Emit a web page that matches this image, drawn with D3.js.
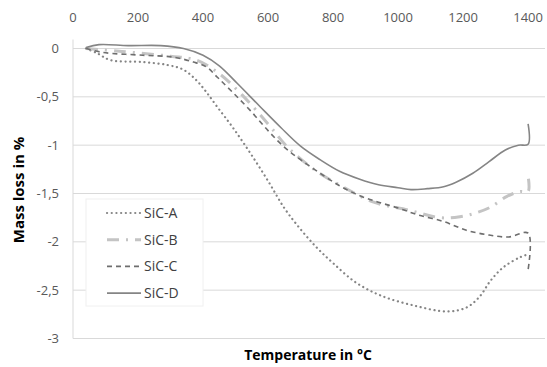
<!DOCTYPE html>
<html>
<head>
<meta charset="utf-8">
<script src="https://cdn.jsdelivr.net/npm/d3@7"></script>
<style>
  body { margin: 0; background: #fff; }
  svg { display: block; font-family: "Open Sans", "Noto Sans", sans-serif; }
</style>
</head>
<body>
<svg id="chart" width="547" height="367"></svg>
<script>
// temperature (°C) and mass change (%)
const seriesNames = ['SiC-A', 'SiC-B', 'SiC-C', 'SiC-D'];

const tempA = [40, 75, 115, 215, 290, 340, 380, 410, 445, 490, 545, 600, 650, 700, 750, 800, 870, 950, 1050, 1150, 1210, 1250, 1285, 1325, 1375, 1400];
const massA = [0.0, -0.05, -0.12, -0.14, -0.17, -0.22, -0.33, -0.45, -0.61, -0.81, -1.08, -1.37, -1.65, -1.87, -2.06, -2.22, -2.42, -2.56, -2.66, -2.72, -2.68, -2.57, -2.4, -2.26, -2.16, -2.13];

const tempB = [40, 150, 300, 380, 450, 520, 600, 660, 745, 830, 925, 1030, 1130, 1190, 1240, 1285, 1335, 1375, 1400, 1400];
const massB = [0.0, -0.03, -0.08, -0.12, -0.26, -0.48, -0.78, -1.02, -1.26, -1.43, -1.59, -1.67, -1.75, -1.74, -1.7, -1.64, -1.53, -1.48, -1.48, -1.32];

const tempC = [40, 90, 215, 310, 370, 410, 445, 490, 545, 600, 650, 700, 760, 820, 880, 940, 1000, 1060, 1140, 1210, 1280, 1340, 1400, 1400];
const massC = [0.0, -0.04, -0.07, -0.09, -0.14, -0.19, -0.3, -0.45, -0.64, -0.85, -1.02, -1.15, -1.29, -1.42, -1.52, -1.59, -1.65, -1.72, -1.79, -1.88, -1.93, -1.95, -1.91, -2.29];

const tempD = [40, 80, 170, 270, 340, 400, 450, 505, 575, 640, 700, 760, 820, 880, 940, 1000, 1040, 1090, 1140, 1180, 1230, 1280, 1330, 1370, 1400, 1400];
const massD = [0.01, 0.04, 0.03, 0.03, 0.0, -0.07, -0.18, -0.36, -0.6, -0.82, -1.01, -1.15, -1.27, -1.35, -1.41, -1.44, -1.46, -1.45, -1.43, -1.38, -1.29, -1.17, -1.05, -1.0, -0.99, -0.78];

const xTicks = [0, 200, 400, 600, 800, 1000, 1200, 1400];
const yTicks = [0, -0.5, -1, -1.5, -2, -2.5, -3];

const svg = d3.select('#chart');
const plotLeft = 73, plotRight = 545, plotTop = 48.5, plotBottom = 338.5;

const x = d3.scaleLinear().domain([0, 1452]).range([plotLeft, plotRight]);
const y = d3.scaleLinear().domain([0, -3]).range([plotTop, plotBottom]);

// gridlines
svg.append('g')
  .selectAll('line')
  .data(yTicks)
  .enter()
  .append('line')
  .attr('x1', plotLeft)
  .attr('x2', plotRight)
  .attr('y1', d => y(d))
  .attr('y2', d => y(d))
  .attr('stroke', '#d9d9d9')
  .attr('stroke-width', 1);

// vertical axis line
svg.append('line')
  .attr('x1', plotLeft).attr('x2', plotLeft)
  .attr('y1', plotTop - 9).attr('y2', plotBottom)
  .attr('stroke', '#d9d9d9');

// tick labels
svg.append('g')
  .selectAll('text')
  .data(xTicks)
  .enter()
  .append('text')
  .attr('x', d => x(d))
  .attr('y', 22)
  .attr('text-anchor', 'middle')
  .attr('fill', '#595959')
  .style('font-size', '13px')
  .text(d => d);

svg.append('g')
  .selectAll('text')
  .data(yTicks)
  .enter()
  .append('text')
  .attr('x', 59)
  .attr('y', d => y(d) + 4.5)
  .attr('text-anchor', 'end')
  .attr('fill', '#595959')
  .style('font-size', '13px')
  .text(d => String(d).replace('.', ','));

// axis titles
svg.append('text')
  .attr('x', 308)
  .attr('y', 360)
  .attr('text-anchor', 'middle')
  .style('font-size', '14px')
  .style('font-weight', 'bold')
  .attr('fill', '#000')
  .text('Temperature in °C');

svg.append('text')
  .attr('transform', 'translate(24,' + 190 + ') rotate(-90)')
  .attr('text-anchor', 'middle')
  .style('font-size', '15px')
  .style('font-weight', 'bold')
  .attr('fill', '#000')
  .text('Mass loss in %');

// series
const styles = [
  {color: '#858585', width: 2.2, dash: '0.1,4.6', cap: 'round'},
  {color: '#c4c4c4', width: 3, dash: '12,7,2,7', cap: 'butt'},
  {color: '#6e6e6e', width: 1.6, dash: '5,4', cap: 'butt'},
  {color: '#858585', width: 1.6, dash: null, cap: 'butt'}
];

const series = [
  d3.zip(tempA, massA),
  d3.zip(tempB, massB),
  d3.zip(tempC, massC),
  d3.zip(tempD, massD)
];

const line = d3.line()
  .x(d => x(d[0]))
  .y(d => y(d[1]))
  .curve(d3.curveCatmullRom.alpha(0.5));

svg.append('g')
  .selectAll('path')
  .data(series)
  .enter()
  .append('path')
  .attr('d', line)
  .attr('fill', 'none')
  .attr('stroke', (d, i) => styles[i].color)
  .attr('stroke-width', (d, i) => styles[i].width)
  .attr('stroke-dasharray', (d, i) => styles[i].dash)
  .attr('stroke-linecap', (d, i) => styles[i].cap);

// legend
const legend = svg.append('g');
legend.append('rect')
  .attr('x', 86).attr('y', 199)
  .attr('width', 117).attr('height', 107)
  .attr('fill', '#fff')
  .attr('stroke', '#f0f0f0');

const items = legend.selectAll('g.item')
  .data(seriesNames)
  .enter()
  .append('g')
  .attr('class', 'item')
  .attr('transform', (d, i) => 'translate(0,' + (213 + i * 26.7) + ')');

items.append('line')
  .attr('x1', 107).attr('x2', 141)
  .attr('y1', 0).attr('y2', 0)
  .attr('stroke', (d, i) => styles[i].color)
  .attr('stroke-width', (d, i) => styles[i].width)
  .attr('stroke-dasharray', (d, i) => styles[i].dash)
  .attr('stroke-linecap', (d, i) => styles[i].cap);

items.append('text')
  .attr('x', 144)
  .attr('y', 5)
  .style('font-size', '14px')
  .attr('fill', '#404040')
  .text(d => d);
</script>
</body>
</html>
